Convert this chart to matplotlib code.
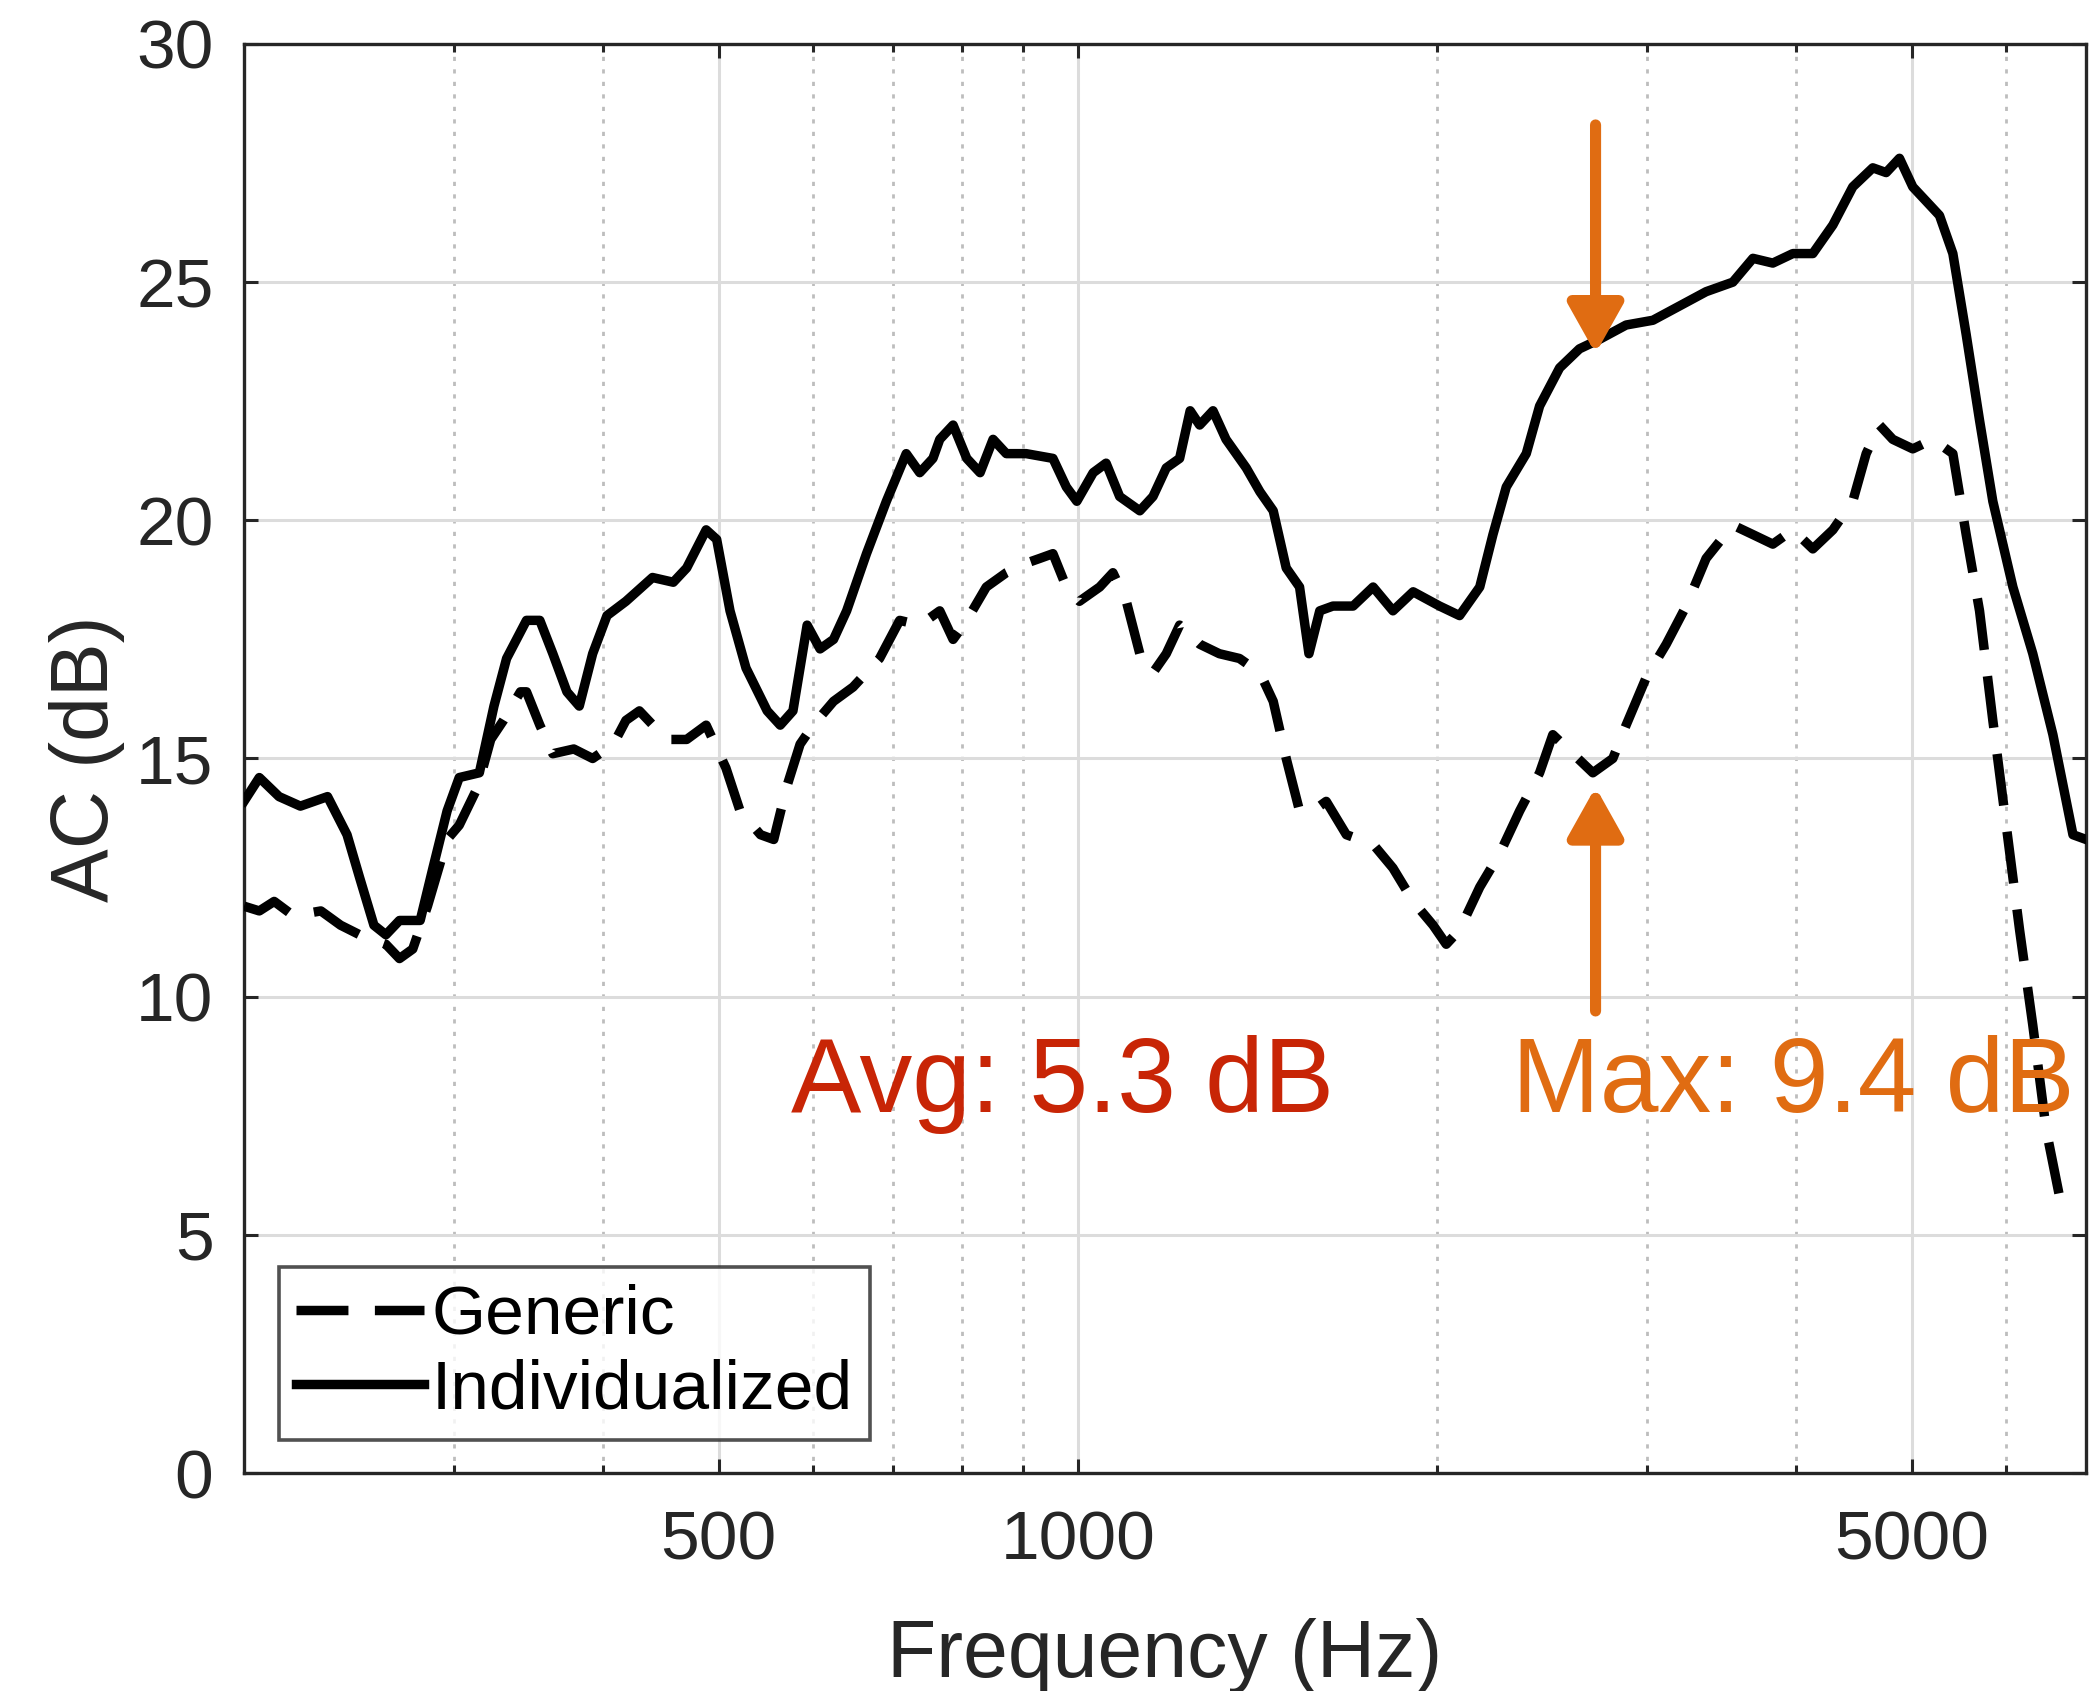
import matplotlib
matplotlib.use("Agg")
import matplotlib.pyplot as plt
from matplotlib.ticker import FixedLocator, NullFormatter, FixedFormatter

plt.rcParams['font.family'] = ['Liberation Sans', 'DejaVu Sans']

# ---- data ----
indiv_freq = [200, 206, 214, 223, 235, 244, 250, 257, 263, 270, 281, 288, 296, 303,
              315, 324, 332, 345, 354, 363, 373, 382, 392, 403, 418, 440, 458, 470,
              488, 498, 511, 527, 549, 563, 577, 593, 608, 624, 640, 665, 691, 718,
              737, 756, 766, 786, 807, 828, 849, 871, 905, 953, 978, 998, 1030, 1056,
              1084, 1127, 1156, 1186, 1217, 1242, 1265, 1298, 1331, 1384, 1421, 1458,
              1495, 1534, 1562, 1595, 1636, 1701, 1768, 1837, 1910, 2010, 2089, 2172,
              2228, 2286, 2376, 2438, 2534, 2633, 2737, 2881, 3034, 3194, 3362, 3540,
              3680, 3824, 3975, 4131, 4294, 4462, 4638, 4759, 4883, 5010, 5141, 5275,
              5413, 5554, 5699, 5847, 6078, 6316, 6566, 6825, 7000]
indiv_ac = [14.1, 14.6, 14.2, 14.0, 14.2, 13.4, 12.5, 11.5, 11.3, 11.6, 11.6, 12.7, 13.9, 14.6,
            14.7, 16.1, 17.1, 17.9, 17.9, 17.2, 16.4, 16.1, 17.2, 18.0, 18.3, 18.8, 18.7, 19.0,
            19.8, 19.6, 18.1, 16.9, 16.0, 15.7, 16.0, 17.8, 17.3, 17.5, 18.1, 19.3, 20.4, 21.4,
            21.0, 21.3, 21.7, 22.0, 21.3, 21.0, 21.7, 21.4, 21.4, 21.3, 20.7, 20.4, 21.0, 21.2,
            20.5, 20.2, 20.5, 21.1, 21.3, 22.3, 22.0, 22.3, 21.7, 21.1, 20.6, 20.2,
            19.0, 18.6, 17.2, 18.1, 18.2, 18.2, 18.6, 18.1, 18.5, 18.2, 18.0, 18.6,
            19.7, 20.7, 21.4, 22.4, 23.2, 23.6, 23.8, 24.1, 24.2, 24.5, 24.8, 25.0,
            25.5, 25.4, 25.6, 25.6, 26.2, 27.0, 27.4, 27.3, 27.6, 27.0, 26.7, 26.4,
            25.6, 23.9, 22.1, 20.4, 18.6, 17.2, 15.5, 13.4, 13.3]

generic_freq = [200, 206, 212, 220, 232, 241, 250, 263, 270, 277, 285, 296, 303, 314,
                322, 330, 341, 345, 354, 363, 378, 392, 408, 418, 429, 452, 470, 488,
                507, 521, 542, 556, 570, 585, 600, 624, 648, 682, 709, 737, 766, 786,
                807, 838, 871, 905, 929, 953, 978, 1003, 1043, 1070, 1098, 1127, 1156,
                1186, 1217, 1265, 1314, 1366, 1421, 1458, 1495, 1534, 1574, 1615, 1679,
                1768, 1837, 1910, 1985, 2036, 2089, 2172, 2257, 2346, 2438, 2501, 2600,
                2702, 2808, 2881, 2995, 3113, 3235, 3362, 3540, 3680, 3824, 3975, 4131,
                4294, 4462, 4579, 4698, 4820, 5010, 5208, 5413, 5554, 5699, 5847, 6000,
                6157, 6316, 6482, 6651, 6825]
generic_ac = [11.9, 11.8, 12.0, 11.7, 11.8, 11.5, 11.3, 11.1, 10.8, 11.0, 11.9, 13.3, 13.6, 14.4,
              15.4, 15.8, 16.4, 16.4, 15.7, 15.1, 15.2, 15.0, 15.3, 15.8, 16.0, 15.4, 15.4, 15.7,
              14.8, 13.9, 13.4, 13.3, 14.4, 15.3, 15.7, 16.2, 16.5, 17.1, 17.9, 17.8, 18.1, 17.5,
              17.9, 18.6, 18.9, 19.1, 19.2, 19.3, 18.6, 18.3, 18.6, 18.9, 18.3, 17.2, 16.8,
              17.2, 17.8, 17.4, 17.2, 17.1, 16.8, 16.2, 15.0, 13.9, 13.9, 14.1, 13.4,
              13.2, 12.7, 12.0, 11.5, 11.1, 11.4, 12.3, 13.0, 13.9, 14.7, 15.5, 15.1,
              14.7, 15.0, 15.7, 16.7, 17.4, 18.2, 19.2, 19.9, 19.7, 19.5, 19.8, 19.4,
              19.8, 20.4, 21.4, 22.0, 21.7, 21.5, 21.7, 21.4, 19.7, 18.1, 15.8, 13.6,
              11.4, 9.4, 7.2, 5.8, 5.5]

x_major = [500, 1000, 5000]
x_major_labels = ['500', '1000', '5000']
x_minor = [300, 400, 600, 700, 800, 900, 2000, 3000, 4000, 6000]
y_ticks = [0, 5, 10, 15, 20, 25, 30]
series_labels = ['Generic', 'Individualized']
avg_text = 'Avg: 5.3 dB'
max_text = 'Max: 9.4 dB'
max_freq = 2716
max_top, max_ind, max_gen, max_bottom = 28.3, 23.5, 14.4, 9.7

# ---- figure ----
fig = plt.figure(figsize=(2089 / 200, 1691 / 200), dpi=200)
ax = fig.add_axes([0.1168, 0.1289, 0.9986 - 0.1168, 0.974 - 0.1289])

dark = '#262626'
ax.plot(generic_freq, generic_ac, color='black', lw=3.4, dashes=(5.5, 2.8),
        label=series_labels[0], zorder=3)
ax.plot(indiv_freq, indiv_ac, color='black', lw=3.4, label=series_labels[1], zorder=3)

ax.set_xscale('log')
ax.set_xlim(200, 7000)
ax.set_ylim(0, 30)

ax.xaxis.set_major_locator(FixedLocator(x_major))
ax.xaxis.set_major_formatter(FixedFormatter(x_major_labels))
ax.xaxis.set_minor_locator(FixedLocator(x_minor))
ax.xaxis.set_minor_formatter(NullFormatter())
ax.set_yticks(y_ticks)
ax.set_yticklabels([str(v) for v in y_ticks])

ax.grid(which='major', axis='both', color='#dcdcdc', lw=1.1, ls='-', zorder=0)
ax.grid(which='minor', axis='x', color='#bdbdbd', lw=1.0, ls=(0, (1.5, 3.0)), zorder=0)
ax.set_axisbelow(True)

ax.tick_params(which='both', direction='in', top=True, right=True, colors=dark,
               labelsize=25, width=1.1)
ax.tick_params(which='major', length=5, pad=11)
ax.tick_params(axis='x', which='major', pad=13)
ax.tick_params(which='minor', length=3)
for s in ax.spines.values():
    s.set_color(dark)
    s.set_linewidth(1.2)

ax.set_xlabel('Frequency (Hz)', fontsize=29, color=dark, labelpad=16)
ax.set_ylabel('AC (dB)', fontsize=29, color=dark, labelpad=4)

leg = ax.legend(loc='lower left', bbox_to_anchor=(0.0188, 0.0233), borderaxespad=0,
                fontsize=25, frameon=True, fancybox=False, edgecolor=dark,
                handlelength=1.85, handletextpad=0.1, borderpad=0.25, labelspacing=0.15)
leg.get_frame().set_linewidth(1.3)
for t in leg.get_texts():
    t.set_color('black')

# annotations
ax.text(971, 8.15, avg_text, fontsize=38, color='#C82506', ha='center', va='center')
ax.text(3975, 8.15, max_text, fontsize=38, color='#E06C12', ha='center', va='center')

arrow_style = dict(arrowstyle='-|>,head_length=0.75,head_width=0.42', color='#E06C12',
                   lw=4.0, mutation_scale=20, shrinkA=0, shrinkB=0)
ax.annotate('', xy=(max_freq, max_ind), xytext=(max_freq, max_top),
            arrowprops=arrow_style, zorder=4)
ax.annotate('', xy=(max_freq, max_gen), xytext=(max_freq, max_bottom),
            arrowprops=arrow_style, zorder=4)

fig.savefig('out.png', dpi=200)
